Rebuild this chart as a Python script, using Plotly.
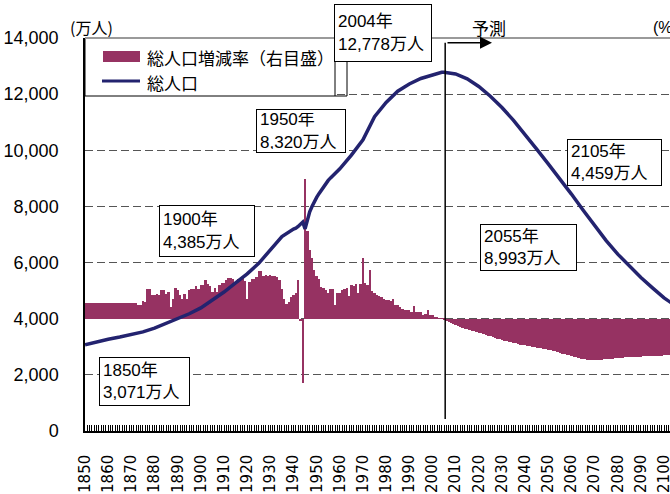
import plotly.graph_objects as go

# ---------------- data ----------------
# annual growth rate of total population (%), one value per year 1850-2105
bar_years = list(range(1850, 2106))
growth_rate = [
    # 1850s
    0.57, 0.57, 0.57, 0.57, 0.57, 0.57, 0.57, 0.57, 0.57, 0.57,
    # 1860s
    0.57, 0.57, 0.57, 0.57, 0.57, 0.57, 0.57, 0.57, 0.57, 0.57,
    # 1870s
    0.57, 0.57, 0.57, 0.50, 0.48, 0.63, 0.60, 1.07, 1.07, 0.86,
    # 1880s
    0.83, 0.89, 0.83, 1.04, 1.04, 0.89, 0.95, 0.42, 0.71, 1.11,
    # 1890s
    1.01, 0.86, 0.71, 0.89, 0.71, 1.01, 1.05, 1.07, 1.17, 1.07,
    # 1900s
    1.21, 1.19, 1.37, 1.25, 1.15, 0.95, 1.10, 0.95, 1.21, 1.29,
    # 1910s
    1.29, 1.37, 1.45, 1.45, 1.40, 1.31, 1.40, 1.40, 1.49, 1.35,
    # 1920s
    0.71, 1.31, 1.40, 1.43, 1.49, 1.69, 1.69, 1.52, 1.57, 1.52,
    # 1930s
    1.55, 1.52, 1.52, 1.49, 1.37, 1.07, 0.71, 0.54, 0.60, 0.78,
    # 1940s
    0.83, 0.92, 1.39, -0.08, -2.30, 4.96, 3.12, 2.44, 2.18, 1.73,
    # 1950s
    1.51, 1.43, 1.13, 1.11, 1.04, 0.92, 1.05, 1.05, 0.48, 0.93,
    # 1960s
    0.93, 1.01, 1.07, 1.11, 0.80, 1.19, 1.15, 1.22, 0.92, 1.22,
    # 1970s
    2.18, 1.29, 1.19, 1.73, 0.99, 0.92, 0.83, 0.80, 0.78, 0.69,
    # 1980s
    0.68, 0.68, 0.63, 0.71, 0.48, 0.48, 0.42, 0.36, 0.32, 0.32,
    # 1990s
    0.32, 0.24, 0.44, 0.24, 0.24, 0.24, 0.14, 0.18, 0.30, 0.15,
    # 2000s
    0.15, 0.06, 0.04, 0.02, 0.01, -0.05, -0.09, -0.13, -0.16, -0.20,
    # 2010s
    -0.23, -0.27, -0.30, -0.33, -0.36, -0.38, -0.40, -0.43, -0.45, -0.48,
    # 2020s
    -0.50, -0.52, -0.55, -0.57, -0.60, -0.62, -0.65, -0.68, -0.71, -0.74,
    # 2030s
    -0.76, -0.79, -0.80, -0.82, -0.84, -0.86, -0.88, -0.90, -0.92, -0.93,
    # 2040s
    -0.95, -0.97, -0.98, -1.00, -1.02, -1.03, -1.04, -1.06, -1.07, -1.09,
    # 2050s
    -1.10, -1.12, -1.14, -1.15, -1.18, -1.21, -1.24, -1.27, -1.29, -1.31,
    # 2060s
    -1.33, -1.36, -1.38, -1.41, -1.43, -1.44, -1.45, -1.46, -1.47, -1.48,
    # 2070s
    -1.48, -1.48, -1.47, -1.46, -1.45, -1.44, -1.44, -1.43, -1.42, -1.41,
    # 2080s
    -1.40, -1.39, -1.39, -1.38, -1.38, -1.37, -1.37, -1.36, -1.36, -1.35,
    # 2090s
    -1.35, -1.34, -1.34, -1.34, -1.33, -1.33, -1.33, -1.32, -1.32, -1.32,
    # 2100s
    -1.31, -1.31, -1.31, -1.31, -1.30, -1.30,
]

# total population (10,000 persons)
pop_years = [
    1850, 1855, 1860, 1865, 1870, 1875, 1880, 1885, 1890, 1895,
    1900, 1905, 1910, 1915, 1920, 1925, 1930, 1935, 1940, 1941,
    1942, 1943, 1944, 1945, 1946, 1947, 1948, 1949, 1950, 1951,
    1952, 1953, 1954, 1955, 1956, 1957, 1958, 1959, 1960, 1965,
    1970, 1975, 1980, 1985, 1990, 1995, 2000, 2004, 2005, 2010,
    2015, 2020, 2025, 2030, 2035, 2040, 2045, 2050, 2055, 2060,
    2065, 2070, 2075, 2080, 2085, 2090, 2095, 2100, 2105,
]
population = [
    3071, 3180, 3270, 3350, 3430, 3530, 3665, 3830, 3990, 4176,
    4385, 4662, 4950, 5275, 5596, 5974, 6445, 6925, 7193, 7222,
    7288, 7388, 7443, 7200, 7575, 7810, 8000, 8177, 8320, 8454,
    8581, 8698, 8824, 8928, 9017, 9093, 9177, 9264, 9342, 9828,
    10372, 11194, 11706, 12105, 12361, 12557, 12693, 12778, 12777, 12718,
    12543, 12274, 11927, 11522, 11068, 10570, 10044, 9515, 8993, 8440,
    7870, 7300, 6780, 6300, 5870, 5470, 5100, 4740, 4459,
]

x_tick_years = list(range(1850, 2101, 10))
x_tick_text = [str(y) for y in x_tick_years]
pop_ticks = [0, 2000, 4000, 6000, 8000, 10000, 12000, 14000]
pop_tick_text = ["0", "2,000", "4,000", "6,000", "8,000", "10,000", "12,000", "14,000"]
rate_grid = [-2, 0, 2, 4, 6, 8]

# labelled points of the population curve
callout_years = [1850, 1900, 1950, 2004, 2055, 2105]
callout_values = [3071, 4385, 8320, 12778, 8993, 4459]

forecast_start = 2005.5

bar_name = "総人口増減率（右目盛）"
line_name = "総人口"

# ---------------- styling / geometry ----------------
W, H = 670, 494
PL, PR, PT, PB = 85, 670, 38, 431
X0 = 1849.98
PX_PER_YEAR = 2.316
X1 = X0 + (PR - PL) / PX_PER_YEAR

BAR_COLOR = "#963262"
LINE_COLOR = "#23236F"
LATIN = "Liberation Sans, Noto Sans CJK JP, sans-serif"
CJK = "Noto Sans CJK JP, sans-serif"


def fx(px):
    return (px - PL) / (PR - PL)


def fy(py):
    return (PB - py) / (PB - PT)


fig = go.Figure()

fig.add_trace(go.Bar(
    x=bar_years, y=growth_rate, name=bar_name,
    marker=dict(color=BAR_COLOR, line=dict(width=0)),
    width=1.0, xaxis="x", yaxis="y",
))

fig.add_trace(go.Scatter(
    x=pop_years, y=population, name=line_name, mode="lines",
    line=dict(color=LINE_COLOR, width=3.5),
    xaxis="x", yaxis="y2",
))

shapes = []
annotations = []

# legend frame and swatches
shapes.append(dict(type="rect", xref="paper", yref="paper",
                   x0=fx(85), x1=fx(335), y0=fy(96), y1=fy(38),
                   line=dict(color="black", width=1), fillcolor="white", layer="above"))
shapes.append(dict(type="rect", xref="paper", yref="paper",
                   x0=fx(103), x1=fx(140), y0=fy(62), y1=fy(51),
                   line=dict(width=0), fillcolor=BAR_COLOR, layer="above"))
shapes.append(dict(type="line", xref="paper", yref="paper",
                   x0=fx(102), x1=fx(140), y0=fy(81), y1=fy(81),
                   line=dict(color=LINE_COLOR, width=3), layer="above"))
annotations.append(dict(xref="paper", yref="paper", x=fx(145), y=fy(57),
                        xanchor="left", yanchor="middle", showarrow=False,
                        text=bar_name, font=dict(family=CJK, size=17, color="black")))
annotations.append(dict(xref="paper", yref="paper", x=fx(145), y=fy(82),
                        xanchor="left", yanchor="middle", showarrow=False,
                        text=line_name, font=dict(family=CJK, size=17, color="black")))

# top frame line
shapes.append(dict(type="line", xref="paper", yref="paper",
                   x0=0, x1=1, y0=1, y1=1,
                   line=dict(color="#9a9a9a", width=2), layer="above"))

# callout boxes (left, top, width, height in px)
box_geom = [
    (99, 357, 91, 49),
    (159, 205, 96, 52),
    (256, 109, 90, 44),
    (334, 4, 98, 58),
    (480, 224, 97, 47),
    (567, 139, 95, 47),
]
PAD = 3
for yr, val, (bl, bt, bw, bh) in zip(callout_years, callout_values, box_geom):
    annotations.append(dict(
        xref="paper", yref="paper", x=fx(bl), y=fy(bt),
        xanchor="left", yanchor="top", showarrow=False,
        text=f"{yr}年<br>{val:,}万人", align="left", valign="middle",
        width=bw - 2 - 2 * PAD, height=bh - 2 - 2 * PAD,
        bordercolor="black", borderwidth=1, borderpad=PAD, bgcolor="white",
        font=dict(family=LATIN, size=17, color="black"),
    ))

# leader from the 2004 callout
shapes.append(dict(type="path", xref="paper", yref="paper",
                   path=f"M{fx(347)},{fy(62)} L{fx(347)},{fy(96)} L{fx(335)},{fy(96)}",
                   line=dict(color="black", width=1), layer="above"))

# forecast marker
shapes.append(dict(type="line", xref="x", yref="paper",
                   x0=forecast_start, x1=forecast_start, y0=fy(419), y1=fy(42.7),
                   line=dict(color="black", width=1.5), layer="above"))
annotations.append(dict(xref="paper", yref="paper", x=fx(492), y=fy(42.7),
                        ax=-46, ay=0, text="", showarrow=True,
                        arrowhead=2, arrowsize=1.6, arrowwidth=1.5, arrowcolor="black"))
annotations.append(dict(xref="paper", yref="paper", x=fx(489), y=fy(27.5),
                        xanchor="center", yanchor="middle", showarrow=False,
                        text="予測", font=dict(family=CJK, size=17, color="black")))

# axis unit labels
annotations.append(dict(xref="paper", yref="paper", x=fx(91.5), y=fy(27),
                        xanchor="center", yanchor="middle", showarrow=False,
                        text="(万人)", font=dict(family=CJK, size=16, color="black")))
annotations.append(dict(xref="paper", yref="paper", x=fx(651), y=fy(27.5),
                        xanchor="left", yanchor="middle", showarrow=False,
                        text="(%)", font=dict(family=LATIN, size=16, color="black")))

fig.update_layout(
    width=W, height=H,
    margin=dict(l=PL, r=W - PR, t=PT, b=H - PB, pad=0),
    paper_bgcolor="white", plot_bgcolor="white",
    showlegend=False, bargap=0,
    font=dict(family=LATIN, color="black"),
    shapes=shapes, annotations=annotations,
    xaxis=dict(
        range=[X0, X1], type="linear", automargin=False,
        tickmode="array", tickvals=x_tick_years, ticktext=x_tick_text,
        tickangle=-90, tickfont=dict(family="DejaVu Sans", size=15, color="black"),
        ticklabeloverflow="allow",
        ticks="inside", ticklen=6, tickwidth=1, tickcolor="black",
        minor=dict(tickmode="linear", tick0=1850, dtick=1, ticks="inside",
                   ticklen=6, tickwidth=1, tickcolor="black", showgrid=False),
        ticklabelstandoff=16,
        showline=True, linecolor="black", linewidth=1.5,
        showgrid=False, zeroline=False,
    ),
    yaxis=dict(
        range=[-4, 10], side="right", automargin=False,
        tickmode="array", tickvals=rate_grid, showticklabels=False, ticks="",
        showgrid=True, gridcolor="#555555", gridwidth=1, griddash="8px,4px",
        zeroline=False, showline=False,
    ),
    yaxis2=dict(
        range=[0, 14000], overlaying="y", side="left", anchor="x", automargin=False,
        tickmode="array", tickvals=pop_ticks, ticktext=pop_tick_text,
        tickfont=dict(family=LATIN, size=18, color="black"),
        ticks="", ticklabelstandoff=21,
        showgrid=False, zeroline=False,
        showline=True, linecolor="black", linewidth=1.5,
    ),
)

fig.write_html("out.html")
